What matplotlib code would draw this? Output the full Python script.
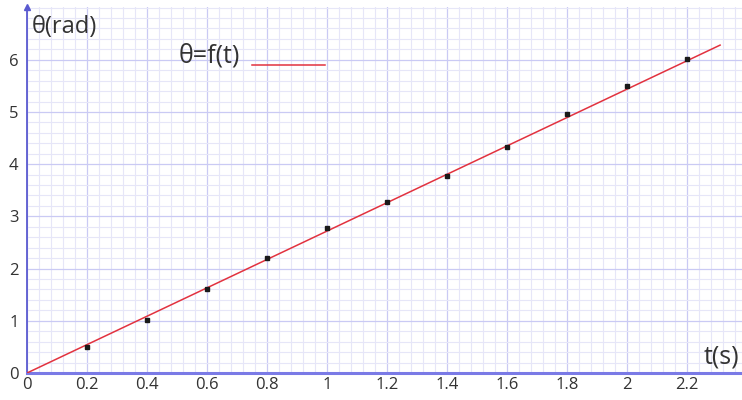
import numpy as np
import matplotlib
matplotlib.use("Agg")
import matplotlib.pyplot as plt
from matplotlib.ticker import MultipleLocator, FixedLocator

plt.rcParams["font.family"] = ["Open Sans", "DejaVu Sans"]

# measured angle of rotation vs time
t_s = [0.2, 0.4, 0.6, 0.8, 1.0, 1.2, 1.4, 1.6, 1.8, 2.0, 2.2]
theta_rad = [0.50, 1.02, 1.61, 2.20, 2.77, 3.28, 3.77, 4.32, 4.96, 5.50, 6.02]

# fitted line theta = f(t)
fit_t = [0.0, 2.31]
fit_theta = [0.0, 6.28]

x_ticks = [0, 0.2, 0.4, 0.6, 0.8, 1, 1.2, 1.4, 1.6, 1.8, 2, 2.2]
x_labels = ["0", "0.2", "0.4", "0.6", "0.8", "1", "1.2", "1.4", "1.6", "1.8", "2", "2.2"]
y_ticks = [0, 1, 2, 3, 4, 5, 6]

AXIS_COLOR = "#7a7ae6"
TEXT_COLOR = "#333333"
FIT_COLOR = "#e2323f"

fig = plt.figure(figsize=(7.42, 4.0), dpi=100)
ax = fig.add_axes([27 / 742, 27 / 400, 715 / 742, 366 / 400])

ax.set_xlim(0, 2.383)
ax.set_ylim(0, 7.01)

# graph-paper grid
ax.xaxis.set_major_locator(FixedLocator(x_ticks))
ax.yaxis.set_major_locator(FixedLocator(y_ticks))
ax.xaxis.set_minor_locator(MultipleLocator(0.04))
ax.yaxis.set_minor_locator(MultipleLocator(0.2))
ax.grid(which="minor", color="#e6e6f8", linewidth=0.8)
ax.grid(which="major", color="#cacaf4", linewidth=0.9)
ax.set_axisbelow(True)

ax.set_xticklabels(x_labels)
ax.tick_params(which="both", length=0, colors=TEXT_COLOR, labelsize=12)
ax.tick_params(axis="x", pad=3)
ax.tick_params(axis="y", pad=6)

for side in ("top", "right"):
    ax.spines[side].set_visible(False)
ax.spines["left"].set_color("#5a5ad0")
ax.spines["left"].set_linewidth(1.3)
ax.spines["bottom"].set_color(AXIS_COLOR)
ax.spines["bottom"].set_linewidth(2.2)

# arrow head on the vertical axis
ax.plot([0], [7.01], marker="^", color="#5a5ad0", markersize=5,
        clip_on=False, zorder=5)

ax.plot(fit_t, fit_theta, color=FIT_COLOR, linewidth=1.1, zorder=3)
ax.plot(t_s, theta_rad, linestyle="none", marker="s", markersize=2.4,
        color="#1a1a1a", zorder=4)

# axis names
ax.text(0.017, 6.62, "θ(rad)", fontsize=17, color=TEXT_COLOR,
        ha="left", va="center")
ax.text(2.373, 0.31, "t(s)", fontsize=18, color=TEXT_COLOR,
        ha="right", va="center")

# legend entry
ax.text(0.505, 6.08, "θ=f(t)", fontsize=18, color=TEXT_COLOR,
        ha="left", va="center")
ax.plot([0.75, 0.993], [5.89, 5.89], color=FIT_COLOR, linewidth=1.1)

fig.savefig("out.png", dpi=100)
